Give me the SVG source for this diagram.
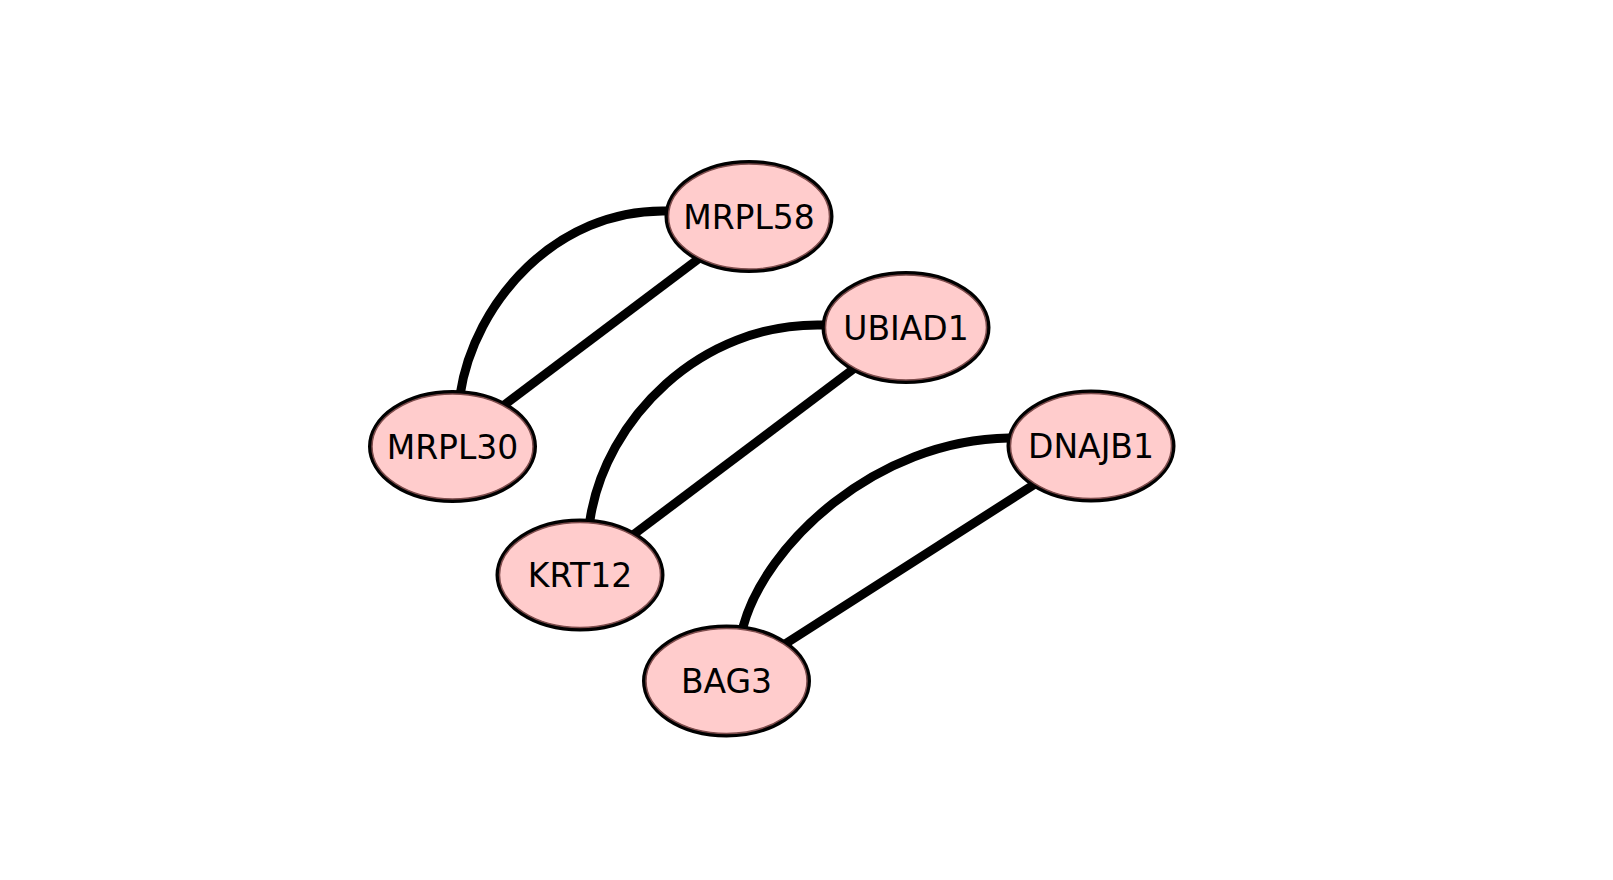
<svg xmlns="http://www.w3.org/2000/svg" width="1613" height="880" viewBox="0 0 1613 880">
<style>
.edge{fill:none;stroke:#000;stroke-width:9;stroke-linecap:butt}
.body{fill:#ffcccc;stroke:#000;stroke-width:4}
.ring{fill:none;stroke:#7d4c4c;stroke-width:1.5}
.lbl{font-family:"DejaVu Sans","Liberation Sans",sans-serif;font-size:33px;fill:#000;text-anchor:middle}
</style>
<rect width="1613" height="880" fill="#fff"/>
<g id="connectors">
<path class="edge" d="M458.5,405 L460,395 C474,301 557,209 666,211 L676,211.2"/>
<path class="edge" d="M495,412 L709,251"/>
<path class="edge" d="M588.5,530 L590,520 C605,420 700,322 823,325 L833,325.2"/>
<path class="edge" d="M625,541 L864,361"/>
<path class="edge" d="M740.4,636.7 L743,627 C765,545 875,440 1009,438 L1019,437.9"/>
<path class="edge" d="M778,648.5 L1042,479.5"/>
</g>
<g id="MRPL58">
<ellipse class="body" cx="749" cy="216.5" rx="82.5" ry="54.5"/>
<ellipse class="ring" cx="749" cy="216.5" rx="80.5" ry="52.5"/>
<text class="lbl" x="749" y="228.5">MRPL58</text>
</g>
<g id="UBIAD1">
<ellipse class="body" cx="906" cy="327.5" rx="82.5" ry="54.5"/>
<ellipse class="ring" cx="906" cy="327.5" rx="80.5" ry="52.5"/>
<text class="lbl" x="906" y="339.5">UBIAD1</text>
</g>
<g id="MRPL30">
<ellipse class="body" cx="452.5" cy="446.5" rx="82.5" ry="54.5"/>
<ellipse class="ring" cx="452.5" cy="446.5" rx="80.5" ry="52.5"/>
<text class="lbl" x="452.5" y="458.5">MRPL30</text>
</g>
<g id="DNAJB1">
<ellipse class="body" cx="1091" cy="446" rx="82.5" ry="54.5"/>
<ellipse class="ring" cx="1091" cy="446" rx="80.5" ry="52.5"/>
<text class="lbl" x="1091" y="458">DNAJB1</text>
</g>
<g id="KRT12">
<ellipse class="body" cx="580" cy="575" rx="82.5" ry="54.5"/>
<ellipse class="ring" cx="580" cy="575" rx="80.5" ry="52.5"/>
<text class="lbl" x="580" y="587">KRT12</text>
</g>
<g id="BAG3">
<ellipse class="body" cx="726.5" cy="681" rx="82.5" ry="54.5"/>
<ellipse class="ring" cx="726.5" cy="681" rx="80.5" ry="52.5"/>
<text class="lbl" x="726.5" y="693">BAG3</text>
</g>
</svg>
